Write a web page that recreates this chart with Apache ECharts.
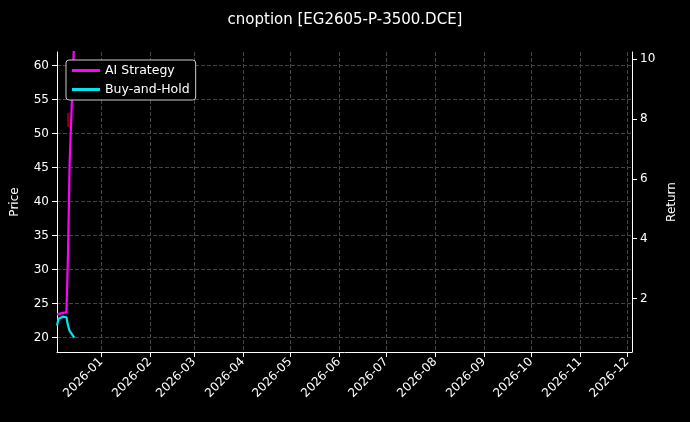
<!DOCTYPE html><html><head><meta charset="utf-8"><script src="https://cdn.jsdelivr.net/npm/echarts@6/dist/echarts.min.js"></script>
<style>html,body{margin:0;background:#000}#c{width:690px;height:422px}</style></head><body><div id="c"></div><script>
const dates=['2025-12-04','2025-12-05','2025-12-08','2025-12-09','2025-12-10','2025-12-11','2025-12-12','2025-12-15'];
const buyHold=[21.8,22.8,23.1,23.1,23.0,21.8,21.0,20.0];
const aiStrategy=[1.47,1.50,1.52,1.53,1.54,3.5,6.5,10.8];
const priceTicks=[20,25,30,35,40,45,50,55,60];
const returnTicks=[2,4,6,8,10];
const monthTicks=['2026-01-01','2026-02-01','2026-03-01','2026-04-01','2026-05-01','2026-06-01','2026-07-01','2026-08-01','2026-09-01','2026-10-01','2026-11-01','2026-12-01'];
const marker=[['2025-12-11',52]];
const ts=s=>Date.UTC(+s.slice(0,4),+s.slice(5,7)-1,+s.slice(8,10));
const c=echarts.init(document.getElementById('c'));
const txt='#fff',F='DejaVu Sans';
c.setOption({backgroundColor:'#000',animation:false,textStyle:{fontFamily:F},
title:{text:'cnoption [EG2605-P-3500.DCE]',left:'center',top:8,textStyle:{color:txt,fontSize:15,fontWeight:'normal',fontFamily:F}},
legend:{left:66,top:60,orient:'vertical',itemGap:6,textStyle:{color:txt,fontSize:12.5},borderColor:'#ccc',borderWidth:1,borderRadius:3,padding:[4,6],backgroundColor:'#000',itemWidth:28,itemHeight:3,
 data:[{name:'AI Strategy',icon:'rect'},{name:'Buy-and-Hold',icon:'rect'}]},
grid:{left:57,right:58,top:52,bottom:70},
xAxis:{type:'value',min:ts('2025-12-04'),max:ts('2026-12-04'),
 axisLine:{lineStyle:{color:'#fff'}},axisTick:{customValues:monthTicks.map(ts),lineStyle:{color:'#fff'}},
 axisLabel:{customValues:monthTicks.map(ts),rotate:45,color:txt,fontSize:12,formatter:v=>{const d=new Date(v);return d.getUTCFullYear()+'-'+String(d.getUTCMonth()+1).padStart(2,'0');}},
 splitLine:{show:true,lineStyle:{color:'#444',type:'dashed'}}},
yAxis:[{type:'value',min:17.9,max:62,name:'Price',nameLocation:'middle',nameGap:36,nameTextStyle:{color:txt,fontSize:12},
 axisLine:{show:true,lineStyle:{color:'#fff'}},axisTick:{show:true,customValues:priceTicks},axisLabel:{customValues:priceTicks,color:txt,fontSize:12},
 splitLine:{show:true,lineStyle:{color:'#444',type:'dashed'}}},
 {type:'value',min:0.21,max:10.24,name:'Return',nameLocation:'middle',nameGap:34,nameTextStyle:{color:txt,fontSize:12},
 axisLine:{show:true,lineStyle:{color:'#fff'}},axisTick:{show:true,customValues:returnTicks},axisLabel:{customValues:returnTicks,color:txt,fontSize:12},splitLine:{show:false}}],
series:[{name:'AI Strategy',type:'line',yAxisIndex:1,showSymbol:false,color:'#ff00ff',lineStyle:{width:2.2},data:dates.map((d,i)=>[ts(d),aiStrategy[i]]),z:3},
{name:'Buy-and-Hold',type:'line',yAxisIndex:0,showSymbol:false,color:'#00e5ee',lineStyle:{width:2.2},data:dates.map((d,i)=>[ts(d),buyHold[i]]),z:4},
{name:'trade',type:'scatter',yAxisIndex:0,symbol:'rect',symbolSize:[1.5,14],itemStyle:{color:'#d00'},data:marker.map(m=>[ts(m[0]),m[1]])}]
});
</script></body></html>
